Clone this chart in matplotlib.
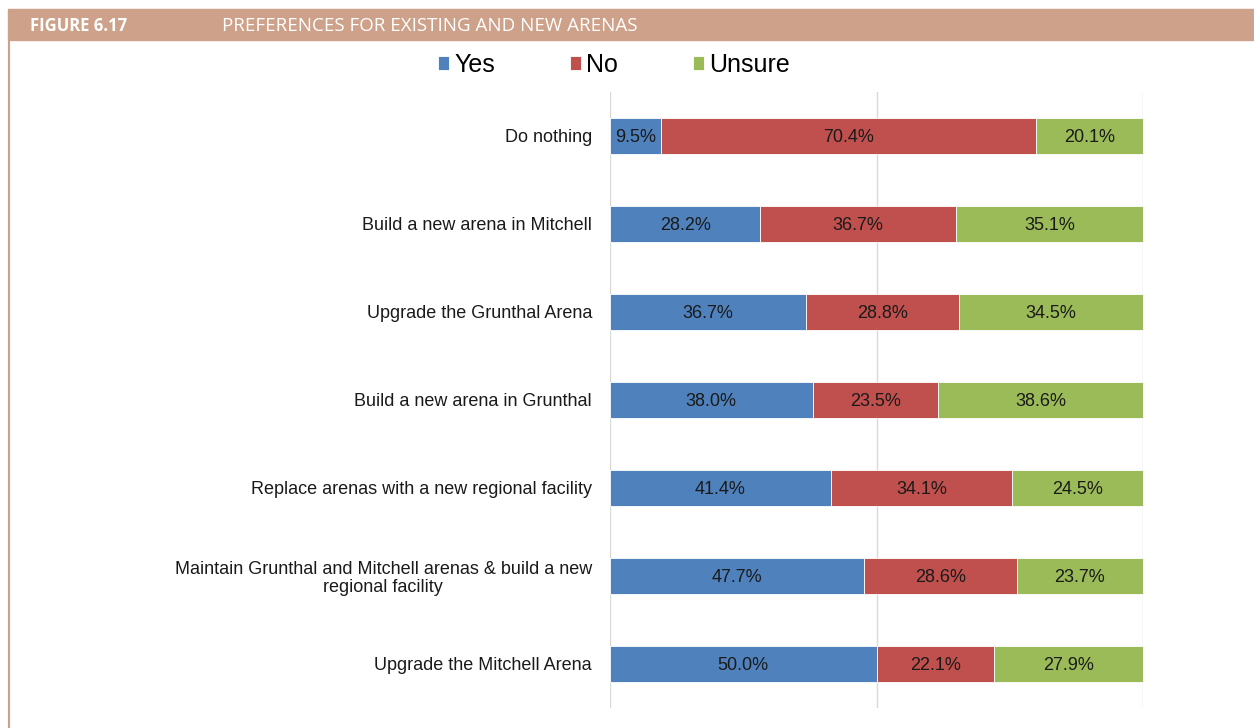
import numpy as np
import matplotlib.pyplot as plt
from matplotlib.patches import Rectangle
from matplotlib.lines import Line2D

categories = [
    "Do nothing",
    "Build a new arena in Mitchell",
    "Upgrade the Grunthal Arena",
    "Build a new arena in Grunthal",
    "Replace arenas with a new regional facility",
    "Maintain Grunthal and Mitchell arenas & build a new\nregional facility",
    "Upgrade the Mitchell Arena",
]
yes = [9.5, 28.2, 36.7, 38.0, 41.4, 47.7, 50.0]
no = [70.4, 36.7, 28.8, 23.5, 34.1, 28.6, 22.1]
unsure = [20.1, 35.1, 34.5, 38.6, 24.5, 23.7, 27.9]

series = ["Yes", "No", "Unsure"]
colors = ["#4F81BD", "#C0504D", "#9BBB59"]

plt.rcParams['font.family'] = ['Liberation Sans', 'DejaVu Sans']

fig = plt.figure(figsize=(12.54, 7.28), dpi=100)
ax = fig.add_axes([610/1254, 1-708/728, 533/1254, 616/728])

y = np.arange(len(categories))
left = np.zeros(len(categories))
for name, vals, c in zip(series, [yes, no, unsure], colors):
    vals = np.array(vals)
    ax.barh(y, vals, left=left, height=0.41, color=c, label=name,
            edgecolor='white', linewidth=0.6)
    for yi, l, v in zip(y, left, vals):
        ax.text(l + v/2, yi, f"{v:.1f}%", ha='center', va='center_baseline',
                fontsize=13, color='#1a1a1a')
    left += vals

ax.set_xlim(0, 100)
ax.set_ylim(len(categories) - 0.5, -0.5)
ax.set_yticks(y)
ax.set_yticklabels(categories, fontsize=13, color='#1a1a1a', linespacing=1.05,
                   multialignment='center')
ax.tick_params(axis='y', length=0, pad=13)
ax.set_xticks([0, 50, 100])
ax.tick_params(axis='x', length=0, labelbottom=False)
ax.grid(axis='x', color='#d9d9d9', linewidth=1)
ax.set_axisbelow(True)
for s in ax.spines.values():
    s.set_visible(False)

# header band
fig.patches.append(Rectangle((8/1254, 1-40/728), 1-8/1254, 31/728,
                             transform=fig.transFigure, color='#CEA28A', zorder=0))
fig.lines.append(Line2D([8.5/1254, 8.5/1254], [0, 1-40/728],
                        transform=fig.transFigure, color='#CEA28A', linewidth=1.5))
fig.text(30/1254, 1-26/728, "FIGURE 6.17", color='white', fontsize=12,
         fontweight='bold', va='center', family=['Open Sans', 'DejaVu Sans'])
fig.text(222/1254, 1-26/728, "PREFERENCES FOR EXISTING AND NEW ARENAS",
         color='white', fontsize=13.5, va='center',
         family=['Open Sans', 'DejaVu Sans'])

fig.legend(loc='center', bbox_to_anchor=(614/1254, 1-65/728), ncol=3,
           frameon=False, fontsize=18, handlelength=0.45, handleheight=0.45,
           handletextpad=0.2, columnspacing=3.0)

fig.savefig("out.png", dpi=100)
